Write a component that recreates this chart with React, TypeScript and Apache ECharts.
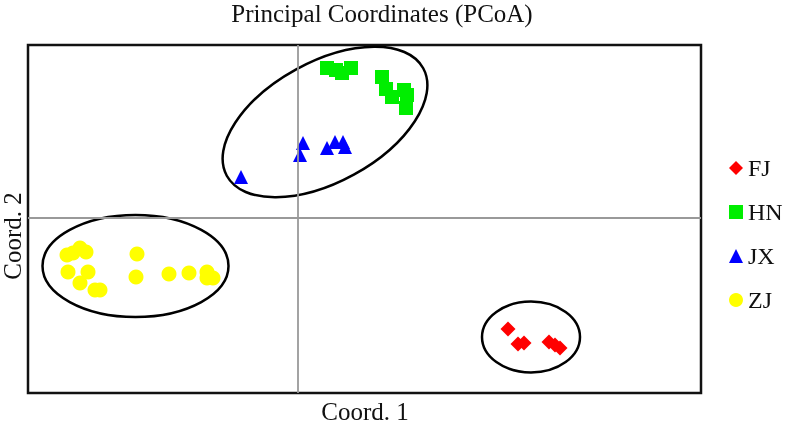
import React, { useEffect, useRef } from "react";
import * as echarts from "echarts";

const seriesNames = ["FJ", "HN", "JX", "ZJ"];
const seriesColors = ["#ff0000", "#00ee00", "#0000ff", "#ffff00"];
const seriesSymbols = ["diamond", "rect", "triangle", "circle"];

const fjPoints = [
  [0.21, -0.111], [0.22, -0.126], [0.226, -0.125], [0.251, -0.124], [0.257, -0.127], [0.262, -0.13],
];
const hnPoints = [
  [0.029, 0.15], [0.044, 0.145], [0.053, 0.15], [0.038, 0.148], [0.084, 0.141],
  [0.088, 0.129], [0.094, 0.121], [0.106, 0.128], [0.109, 0.123], [0.108, 0.11],
];
const jxPoints = [
  [-0.057, 0.041], [0.002, 0.063], [0.005, 0.075], [0.029, 0.07], [0.037, 0.076], [0.045, 0.076], [0.047, 0.071],
];
const zjPoints = [
  [-0.231, -0.037], [-0.225, -0.035], [-0.218, -0.03], [-0.212, -0.034], [-0.23, -0.054], [-0.21, -0.054],
  [-0.218, -0.065], [-0.203, -0.072], [-0.198, -0.072], [-0.161, -0.036], [-0.162, -0.059], [-0.129, -0.056],
  [-0.109, -0.055], [-0.091, -0.054], [-0.085, -0.06], [-0.091, -0.06],
];
// ellipses: [centerX, centerY, radiusX, radiusY, rotationDeg]
const ellipses = [
  [0.027, 0.096, 0.112, 0.06, 28.7],
  [-0.1625, -0.048, 0.093, 0.051, 0],
  [0.233, -0.119, 0.049, 0.0355, 0],
];
const xRange = [-0.27, 0.403];
const yRange = [-0.175, 0.173];

const titleText = "Principal Coordinates (PCoA)";
const xName = "Coord. 1";
const yName = "Coord. 2";

const FONT = '"Liberation Serif", "Times New Roman", serif';

export default function App() {
  const ref = useRef<HTMLDivElement>(null);
  useEffect(() => {
    if (!ref.current) return;
    const chart = echarts.init(ref.current, undefined, { renderer: "svg" });
    const pointSets = [fjPoints, hnPoints, jxPoints, zjPoints];
    const scatterSeries = seriesNames.map((name, i) => ({
      name,
      type: "scatter",
      data: pointSets[i],
      symbol: seriesSymbols[i],
      symbolSize: i === 0 ? 15 : i === 3 ? 15 : 14,
      itemStyle: { color: seriesColors[i], opacity: 1 },
      z: 3,
    }));
    chart.setOption({
      animation: false,
      textStyle: { fontFamily: FONT },
      grid: {
        left: 28,
        right: 85,
        top: 45,
        bottom: 31,
        show: true,
        borderColor: "#111",
        borderWidth: 2.5,
        backgroundColor: "transparent",
      },
      xAxis: {
        type: "value",
        min: xRange[0],
        max: xRange[1],
        axisLine: { show: false },
        axisTick: { show: false },
        axisLabel: { show: false },
        splitLine: { show: false },
      },
      yAxis: {
        type: "value",
        min: yRange[0],
        max: yRange[1],
        axisLine: { show: false },
        axisTick: { show: false },
        axisLabel: { show: false },
        splitLine: { show: false },
      },
      legend: {
        data: seriesNames,
        orient: "vertical",
        left: 724,
        top: 151,
        itemWidth: 14,
        itemHeight: 14,
        itemGap: 20,
        textStyle: { fontFamily: FONT, fontSize: 24, color: "#111", lineHeight: 24 },
      },
      graphic: [
        {
          type: "text",
          x: 382,
          y: 13,
          style: { text: titleText, font: `25px ${FONT}`, textAlign: "center", textVerticalAlign: "middle", fill: "#111" },
        },
        {
          type: "text",
          x: 365,
          y: 411,
          style: { text: xName, font: `25px ${FONT}`, textAlign: "center", textVerticalAlign: "middle", fill: "#111" },
        },
        {
          type: "text",
          x: 12,
          y: 236,
          rotation: Math.PI / 2,
          style: { text: yName, font: `25px ${FONT}`, lineHeight: 20, textAlign: "center", textVerticalAlign: "middle", fill: "#111" },
        },
      ],
      series: [
        {
          name: "axes",
          type: "scatter",
          data: [],
          silent: true,
          markLine: {
            silent: true,
            symbol: ["none", "none"],
            label: { show: false },
            lineStyle: { color: "#999", width: 1.8, type: "solid" },
            data: [{ xAxis: 0 }, { yAxis: 0 }],
          },
        },
        {
          name: "ellipses",
          type: "custom",
          data: ellipses,
          encode: { x: 0, y: 1 },
          silent: true,
          z: 2,
          renderItem: (params: any, api: any) => {
            const c = api.coord([api.value(0), api.value(1)]);
            const s = api.size([api.value(2), api.value(3)]);
            return {
              type: "ellipse",
              x: c[0],
              y: c[1],
              rotation: (api.value(4) * Math.PI) / 180,
              shape: { cx: 0, cy: 0, rx: s[0], ry: s[1] },
              style: { fill: "none", stroke: "#000", lineWidth: 2.5 },
            };
          },
        },
        ...scatterSeries,
      ],
    });
    return () => chart.dispose();
  }, []);
  return <div ref={ref} style={{ position: "fixed", left: 0, top: 0, width: 786, height: 424 }} />;
}
